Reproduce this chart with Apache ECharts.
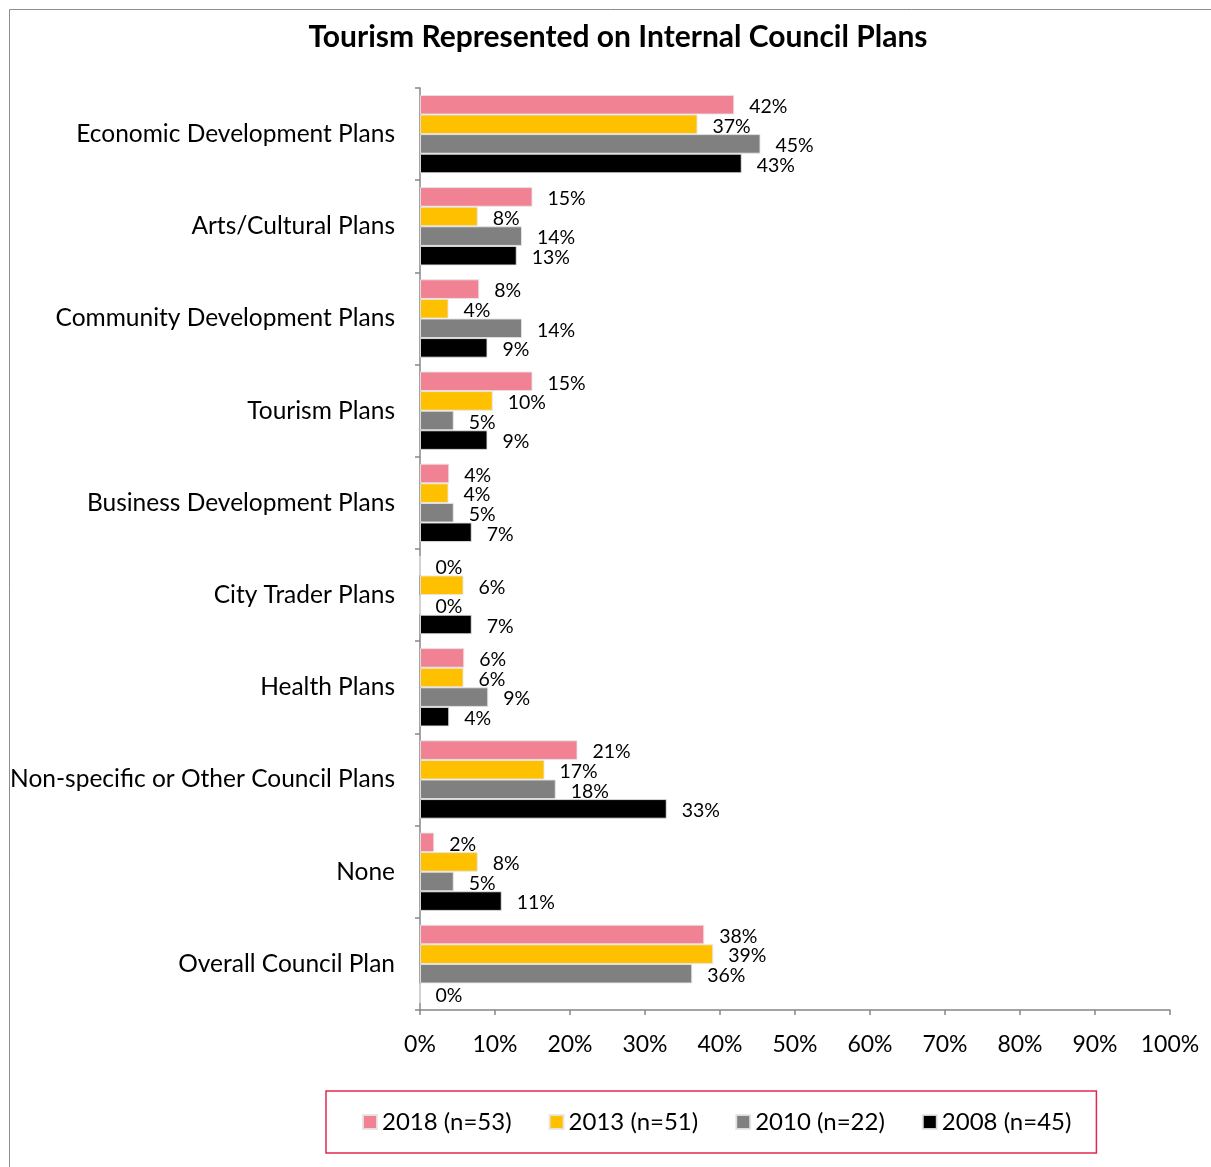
<!DOCTYPE html>
<html>
<head>
<meta charset="utf-8">
<script src="https://cdn.jsdelivr.net/npm/echarts@6/dist/echarts.min.js"></script>
<style>
  html, body { margin: 0; padding: 0; background: #fff; }
  #chart { width: 1211px; height: 1167px; }
</style>
</head>
<body>
<div id="chart"></div>
<script>
// Plan types, listed top to bottom
const categories = [
  'Economic Development Plans',
  'Arts/Cultural Plans',
  'Community Development Plans',
  'Tourism Plans',
  'Business Development Plans',
  'City Trader Plans',
  'Health Plans',
  'Non-specific or Other Council Plans',
  'None',
  'Overall Council Plan'
];

// Share of councils (%) per survey year
const values2018 = [41.9, 15.0, 7.9, 15.0, 3.9, 0, 5.9, 21.0, 1.9, 37.9];
const values2013 = [37.0, 7.7, 3.8, 9.7, 3.8, 5.8, 5.8, 16.6, 7.7, 39.1];
const values2010 = [45.4, 13.6, 13.6, 4.5, 4.5, 0, 9.1, 18.1, 4.5, 36.3];
const values2008 = [42.9, 12.9, 9.0, 9.0, 6.9, 6.9, 3.9, 32.9, 10.9, 0];

const seriesNames = ['2018 (n=53)', '2013 (n=51)', '2010 (n=22)', '2008 (n=45)'];
const seriesColors = ['#F08294', '#FFC000', '#808080', '#000000'];

// x-axis ticks: 0% to 100% in steps of 10
const xTicks = [0, 10, 20, 30, 40, 50, 60, 70, 80, 90, 100];

const FONT = 'Lato, "Open Sans", sans-serif';
const axisGrey = '#868686';

const allValues = [values2018, values2013, values2010, values2008];

const chart = echarts.init(document.getElementById('chart'), null, { renderer: 'canvas' });

const series = allValues.map((vals, i) => ({
  name: seriesNames[i],
  type: 'bar',
  data: vals,
  barGap: '0%',
  barCategoryGap: '15%',
  itemStyle: {
    color: seriesColors[i],
    borderColor: 'rgba(230,230,230,0.9)',
    borderWidth: 1
  },
  label: {
    show: true,
    position: 'right',
    distance: 15,
    offset: [0, 2],
    color: '#000',
    fontFamily: FONT,
    fontSize: 19.5,
    formatter: p => Math.round(p.value) + '%'
  }
}));

chart.setOption({
  animation: false,
  title: {
    text: 'Tourism Represented on Internal Council Plans',
    left: 613,
    textAlign: 'center',
    top: 17,
    textStyle: { fontFamily: FONT, fontWeight: 'bold', fontSize: 30, color: '#000' }
  },
  graphic: [{
    type: 'rect',
    shape: { x: 9.5, y: 9.5, width: 1300, height: 1300 },
    style: { fill: 'none', stroke: '#8c8c8c', lineWidth: 1 },
    silent: true
  }],
  legend: {
    data: seriesNames,
    left: 326,
    top: 1091,
    icon: 'rect',
    itemWidth: 14,
    itemHeight: 14,
    itemGap: 37,
    itemTextGap: 7,
    padding: [19, 25, 19, 36],
    borderColor: '#E0294F',
    borderWidth: 1.5,
    textStyle: { fontFamily: FONT, fontSize: 24, color: '#000' }
  },
  grid: { left: 420, right: 41, top: 88, bottom: 157, containLabel: false },
  xAxis: {
    type: 'value',
    min: xTicks[0],
    max: xTicks[xTicks.length - 1],
    interval: 10,
    axisLine: { show: true, lineStyle: { color: axisGrey, width: 1.5 } },
    axisTick: { show: true, length: 5, lineStyle: { color: axisGrey, width: 1.5 } },
    splitLine: { show: false },
    axisLabel: {
      margin: 23,
      fontFamily: FONT,
      fontSize: 23,
      color: '#000',
      formatter: v => v + '%'
    }
  },
  yAxis: {
    type: 'category',
    data: categories,
    inverse: true,
    axisLine: { show: true, lineStyle: { color: axisGrey, width: 1.5 } },
    axisTick: { show: true, length: 5, lineStyle: { color: axisGrey, width: 1.5 } },
    axisLabel: {
      margin: 25,
      fontFamily: FONT,
      fontSize: 24.5,
      color: '#000'
    }
  },
  series: series
});
</script>
</body>
</html>
